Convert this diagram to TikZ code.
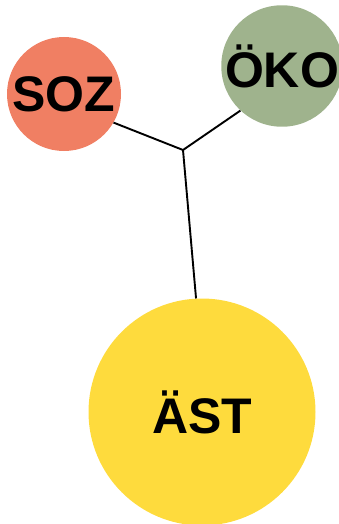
\documentclass[tikz,border=0pt]{standalone}
\usepackage{fontspec}
\setmainfont{Liberation Sans}
\definecolor{sozc}{HTML}{F07F63}
\definecolor{okoc}{HTML}{9FB38D}
\definecolor{astc}{HTML}{FEDB3D}
\begin{document}
\begin{tikzpicture}[x=1pt,y=-1pt,
  bubble/.style={circle,inner sep=0pt,font=\fontsize{50}{50}\selectfont\bfseries,text=black},
  link/.style={line width=1.9pt,black}]
\useasboundingbox (0,0) rectangle (339,524);
\node[bubble,fill=sozc,minimum size=114pt] (soz) at (64,94) {SOZ};
\node[bubble,fill=okoc,minimum size=114pt] (oko) at (282,66) {ÖKO};
\node[bubble,fill=astc,minimum size=227pt] (ast) at (202,412) {ÄST};
\coordinate (j) at (183,150);
\draw[link] (soz.330) -- (j);
\draw[link] (oko.227) -- (j);
\draw[link] (j) -- (ast.93);
\end{tikzpicture}
\end{document}
